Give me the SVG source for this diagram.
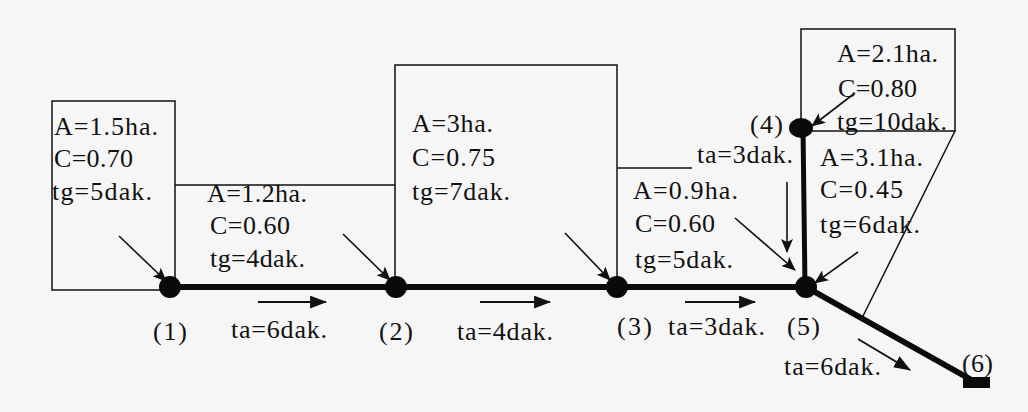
<svg xmlns="http://www.w3.org/2000/svg" width="1028" height="412" viewBox="0 0 1028 412">
<style>
  text { font-family: "Liberation Serif", "Times New Roman", serif; font-size: 26px; fill: #111; }
  .thin { fill: none; stroke: #111; stroke-width: 1.5; }
  .pipe { fill: none; stroke: #0a0a0a; stroke-linecap: round; }
  .arr { fill: none; stroke: #111; stroke-width: 1.6; }
  .ta { fill: none; stroke: #111; stroke-width: 2; }
  .node { fill: #0a0a0a; }
</style>
<defs>
  <marker id="ah" viewBox="0 0 14 12" refX="13" refY="6" markerWidth="15" markerHeight="12" markerUnits="userSpaceOnUse" orient="auto">
    <path d="M0,0 L14,6 L0,12 L3,6 z" fill="#111"/>
  </marker>
  <marker id="ahb" viewBox="0 0 16 12" refX="15" refY="6" markerWidth="17" markerHeight="13" markerUnits="userSpaceOnUse" orient="auto">
    <path d="M0,0 L16,6 L0,12 z" fill="#111"/>
  </marker>
</defs>
<rect x="0" y="0" width="1028" height="412" fill="#f6f6f6"/>

<g id="catchment-1">
  <rect class="thin" x="52" y="101" width="123" height="189"/>
  <text x="54" y="135" textLength="104">A=1.5ha.</text>
  <text x="54" y="167" textLength="79">C=0.70</text>
  <text x="52" y="200" textLength="100">tg=5dak.</text>
</g>
<g id="catchment-2">
  <line class="thin" x1="175" y1="185" x2="395" y2="185"/>
  <text x="207" y="202" textLength="100">A=1.2ha.</text>
  <text x="210" y="234" textLength="80">C=0.60</text>
  <text x="210" y="267" textLength="95">tg=4dak.</text>
</g>
<g id="catchment-3">
  <rect class="thin" x="395" y="65" width="222" height="222"/>
  <text x="412" y="132" textLength="81">A=3ha.</text>
  <text x="412" y="166" textLength="83">C=0.75</text>
  <text x="412" y="200" textLength="98">tg=7dak.</text>
</g>
<g id="catchment-4">
  <line class="thin" x1="617" y1="168" x2="692" y2="168"/>
  <text x="633" y="199" textLength="105">A=0.9ha.</text>
  <text x="635" y="232" textLength="80">C=0.60</text>
  <text x="635" y="268" textLength="98">tg=5dak.</text>
</g>
<g id="catchment-5">
  <rect class="thin" x="801" y="29" width="154" height="102"/>
  <text x="837" y="62" textLength="101">A=2.1ha.</text>
  <text x="838" y="97" textLength="79">C=0.80</text>
  <text x="837" y="130" textLength="110">tg=10dak.</text>
</g>
<g id="catchment-6">
  <line class="thin" x1="955" y1="131" x2="863" y2="316"/>
  <text x="820" y="166" textLength="103">A=3.1ha.</text>
  <text x="820" y="198" textLength="83">C=0.45</text>
  <text x="820" y="233" textLength="100">tg=6dak.</text>
</g>

<g id="connectors">
  <line class="pipe" x1="170" y1="287" x2="806" y2="287" stroke-width="6"/>
  <line class="pipe" x1="803" y1="128" x2="805" y2="287" stroke-width="5"/>
  <line class="pipe" x1="806" y1="287" x2="977" y2="383" stroke-width="6"/>
  <line class="arr" x1="119" y1="236" x2="166" y2="281" marker-end="url(#ah)"/>
  <line class="arr" x1="343" y1="234" x2="390" y2="280" marker-end="url(#ah)"/>
  <line class="arr" x1="565" y1="233" x2="610" y2="280" marker-end="url(#ah)"/>
  <line class="arr" x1="735" y1="218" x2="795" y2="270" marker-end="url(#ah)"/>
  <line class="arr" x1="787" y1="182" x2="787" y2="252" marker-end="url(#ah)"/>
  <line class="arr" x1="858" y1="252" x2="815" y2="283" marker-end="url(#ah)"/>
  <line class="arr" x1="855" y1="93" x2="812" y2="126" marker-end="url(#ah)"/>
  <line class="ta" x1="258" y1="302" x2="326" y2="302" marker-end="url(#ahb)"/>
  <line class="ta" x1="480" y1="302" x2="550" y2="302" marker-end="url(#ahb)"/>
  <line class="ta" x1="685" y1="302" x2="755" y2="302" marker-end="url(#ahb)"/>
  <line class="ta" x1="858" y1="339" x2="910" y2="370" marker-end="url(#ahb)"/>
  <text x="231" y="338" textLength="96">ta=6dak.</text>
  <text x="457" y="340" textLength="96">ta=4dak.</text>
  <text x="668" y="335" textLength="97">ta=3dak.</text>
  <text x="697" y="163" textLength="96">ta=3dak.</text>
  <text x="784" y="375" textLength="97">ta=6dak.</text>
</g>

<g id="node-1">
  <circle class="node" cx="170" cy="287" r="11"/>
  <text x="153" y="340" textLength="34">(1)</text>
</g>
<g id="node-2">
  <circle class="node" cx="396" cy="287" r="11"/>
  <text x="379" y="340" textLength="34">(2)</text>
</g>
<g id="node-3">
  <circle class="node" cx="617" cy="287" r="11"/>
  <text x="617" y="335" textLength="35">(3)</text>
</g>
<g id="node-4">
  <ellipse class="node" cx="801" cy="128" rx="12" ry="10"/>
  <text x="750" y="133" textLength="33">(4)</text>
</g>
<g id="node-5">
  <circle class="node" cx="806" cy="287" r="11"/>
  <text x="787" y="335" textLength="33">(5)</text>
</g>
<g id="node-6">
  <rect class="node" x="963" y="377" width="27" height="11"/>
  <text x="962" y="372" textLength="31">(6)</text>
</g>
</svg>
